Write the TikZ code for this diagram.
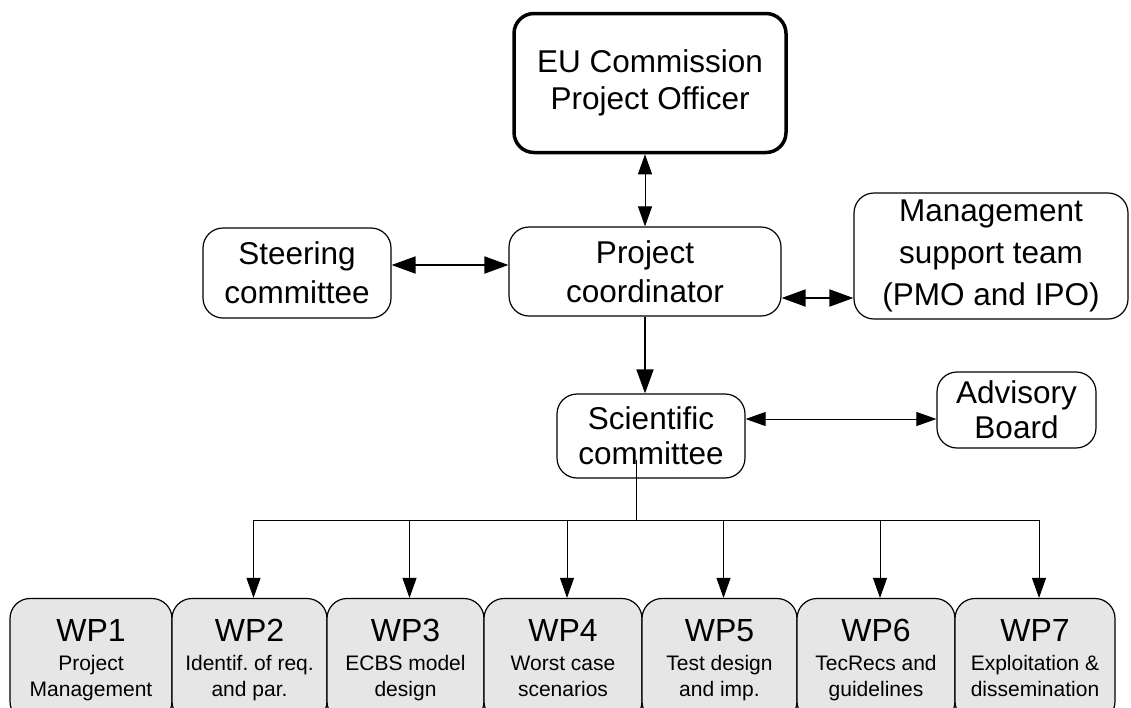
\documentclass[tikz,border=0pt]{standalone}
\usepackage{fontspec}
\setmainfont{Liberation Sans}
\usetikzlibrary{arrows.meta}
\definecolor{wpgray}{HTML}{E6E6E6}
\tikzset{
  box/.style={draw, rounded corners=20pt, line width=1.2pt, align=center, inner sep=0pt,
    font=\fontsize{31.5}{39}\selectfont},
  wpbox/.style={box, fill=wpgray, minimum height=123pt, font=\fontsize{21}{26}\selectfont},
  bighead/.style={{Triangle[length=24pt,width=17pt]}-{Triangle[length=24pt,width=17pt]}},
  bigarrow/.style={line width=1.8pt, bighead},
  thinarrow/.style={line width=0.9pt},
  tip/.style={-{Triangle[length=20pt,width=14pt]}},
  tips/.style={{Triangle[length=20pt,width=14pt]}-{Triangle[length=20pt,width=14pt]}}
}
\newcommand{\wptext}[3]{{\fontsize{32}{32}\selectfont #1\vphantom{Wg}}\\[3pt]#2\vphantom{Wg}\\#3\vphantom{Wg}}
\frenchspacing
\begin{document}
\begin{tikzpicture}[x=1pt,y=-1pt]
\clip (0,0) rectangle (1131,707);
\fill[white] (0,0) rectangle (1131,707);

\node[box, line width=3.5pt, minimum width=272pt, minimum height=139pt, font=\fontsize{31.5}{37}\selectfont] (EU) at (650,83) {EU Commission\\Project Officer};
\node[box, minimum width=188pt, minimum height=90pt] (ST) at (297,273) {Steering\\committee};
\node[box, minimum width=272pt, minimum height=89pt] (PC) at (645,271.5) {Project\\coordinator};
\node[box, minimum width=274pt, minimum height=126pt, font=\fontsize{31.5}{42}\selectfont] (MS) at (991,256) {Management\\support team\\(PMO and IPO)};
\node[box, minimum width=188pt, minimum height=84pt, font=\fontsize{31.5}{35}\selectfont] (SC) at (651,436) {Scientific\\committee};
\node[box, minimum width=159pt, minimum height=76pt, font=\fontsize{31.5}{35}\selectfont] (AB) at (1016.5,410) {Advisory\\Board};

\node[wpbox, minimum width=162pt] (WP1) at (91,660) {\wptext{WP1}{Project}{Management}};
\node[wpbox, minimum width=155pt] (WP2) at (249.5,660) {\wptext{WP2}{Identif. of req.}{and par.}};
\node[wpbox, minimum width=157pt] (WP3) at (405.5,660) {\wptext{WP3}{ECBS model}{design}};
\node[wpbox, minimum width=158pt] (WP4) at (563,660) {\wptext{WP4}{Worst case}{scenarios}};
\node[wpbox, minimum width=155pt] (WP5) at (719.5,660) {\wptext{WP5}{Test design}{and imp.}};
\node[wpbox, minimum width=158pt] (WP6) at (876,660) {\wptext{WP6}{TecRecs and}{guidelines}};
\node[wpbox, minimum width=160pt] (WP7) at (1035,660) {\wptext{WP7}{Exploitation \&}{dissemination}};

% connectors
\draw[thinarrow, tips] (PC.north |- EU.south) -- (PC.north);
\draw[bigarrow] ([yshift=8pt]ST.east) -- ([yshift=8pt]ST.east -| PC.west);
\draw[bigarrow] ([yshift=-26.5pt]PC.east) -- ([yshift=-26.5pt]PC.east -| MS.west);
\draw[line width=1.8pt, -{Triangle[length=24pt,width=17pt]}] (PC.south) -- (PC.south |- SC.north);
\draw[thinarrow, tips] ([yshift=17pt]SC.east) -- ([yshift=17pt]SC.east -| AB.west);

\coordinate (hub) at (636,520);
\draw[thinarrow] ([xshift=-15pt,yshift=-24pt]SC.center) -- (hub);
\draw[thinarrow] ([xshift=4pt]WP2.north |- hub) -- ([xshift=4pt]WP7.north |- hub);
\foreach \w in {WP2,WP3,WP4,WP5,WP6,WP7}{
  \draw[thinarrow, tip] ([xshift=4pt]\w.north |- hub) -- ([xshift=4pt]\w.north);
}
\end{tikzpicture}
\end{document}
